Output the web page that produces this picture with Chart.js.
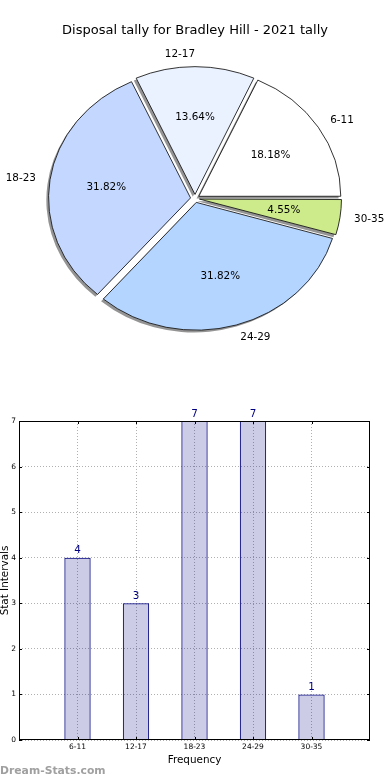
<!DOCTYPE html>
<html><head><meta charset="utf-8">
<script src="https://cdn.jsdelivr.net/npm/chart.js@4"></script>
<style>
html,body{margin:0;padding:0;background:#fff;width:390px;height:780px;overflow:hidden}
#pie{position:absolute;left:0;top:0}
#bar{position:absolute;left:0;top:390px}
</style>
</head><body>
<canvas id="pie" width="390" height="390"></canvas>
<canvas id="bar" width="390" height="390"></canvas>
<script>
const categories = ['6-11', '12-17', '18-23', '24-29', '30-35'];
const frequencies = [4, 3, 7, 7, 1];
const sliceColors = ['#ffffff', '#eaf1ff', '#c4d8ff', '#b4d5ff', '#cdeb8b'];
const yTicks = [0, 1, 2, 3, 4, 5, 6, 7];
const chartTitle = 'Disposal tally for Bradley Hill - 2021 tally';
const xTitle = 'Frequency';
const yTitle = 'Stat Intervals';
const watermark = 'Dream-Stats.com';

const FONT = "'DejaVu Sans', sans-serif";
const ELL = 0.9;
const total = frequencies.reduce((a, b) => a + b, 0);
// matplotlib draws counter-clockwise from east; Chart.js draws clockwise -> reverse
const order = categories.map((c, i) => i).reverse();

function arcGeom(arc) {
  const mid = (arc.startAngle + arc.endAngle) / 2;
  const off = (arc.options.offset || 0) / 4;
  return { mid, off, c: Math.cos(mid), s: Math.sin(mid) };
}

const pieShape = {
  id: 'pieShape',
  beforeDatasetsDraw(chart) {
    const meta = chart.getDatasetMeta(0);
    const a0 = meta.data[0];
    const cx = a0.x, cy = a0.y;
    const ctx = chart.ctx;
    // shadows (fill only), offset in screen space
    ctx.save();
    ctx.translate(-2.2, 2.2);
    ctx.translate(cx, cy); ctx.scale(1, ELL); ctx.translate(-cx, -cy);
    ctx.fillStyle = 'rgba(0,0,0,0.42)';
    meta.data.forEach(arc => {
      const g = arcGeom(arc);
      const ox = arc.x + g.off * g.c, oy = arc.y + g.off * g.s;
      ctx.beginPath();
      ctx.moveTo(ox, oy);
      ctx.arc(ox, oy, arc.outerRadius, arc.startAngle, arc.endAngle);
      ctx.closePath();
      ctx.fill();
    });
    ctx.restore();
    // cancel Chart.js radius growth for offset arcs
    meta.data.forEach(arc => {
      const g = arcGeom(arc);
      const circ = arc.endAngle - arc.startAngle;
      const fix = 1 - Math.sin(Math.min(Math.PI, circ));
      arc.$baseR = arc.outerRadius;
      arc.outerRadius = arc.$baseR - g.off * fix;
    });
    ctx.save();
    ctx.translate(cx, cy); ctx.scale(1, ELL); ctx.translate(-cx, -cy);
  },
  afterDatasetsDraw(chart) {
    const ctx = chart.ctx;
    ctx.restore();
    const meta = chart.getDatasetMeta(0);
    meta.data.forEach(arc => { if (arc.$baseR) arc.outerRadius = arc.$baseR; });
    const ds = chart.data.datasets[0];
    ctx.save();
    ctx.fillStyle = '#000';
    ctx.font = '10.4px ' + FONT;
    ctx.textBaseline = 'middle';
    meta.data.forEach((arc, i) => {
      const g = arcGeom(arc);
      const r = arc.outerRadius;
      const pt = k => [arc.x + (g.off + k * r) * g.c, arc.y + (g.off + k * r) * g.s * ELL];
      const [lx, ly] = pt(1.1);
      ctx.textAlign = g.c > 1e-9 ? 'left' : 'right';
      ctx.fillText(chart.data.labels[i], lx, ly);
      const [px, py] = pt(0.6);
      ctx.textAlign = 'center';
      ctx.fillText((ds.data[i] / total * 100).toFixed(2) + '%', px, py);
    });
    ctx.restore();
  }
};

new Chart(document.getElementById('pie'), {
  type: 'pie',
  data: {
    labels: order.map(i => categories[i]),
    datasets: [{
      data: order.map(i => frequencies[i]),
      backgroundColor: order.map(i => sliceColors[i]),
      borderColor: '#111',
      borderWidth: 0.9,
      offset: 18,
      radius: 142
    }]
  },
  options: {
    responsive: false, animation: false, events: [],
    rotation: 90, radius: 142,
    layout: { padding: { top: 0, bottom: 31.6, left: 0, right: 0 } },
    plugins: {
      legend: { display: false }, tooltip: { enabled: false },
      title: { display: true, text: chartTitle, color: '#000',
        font: { family: FONT, size: 13, weight: 'normal', lineHeight: 1.2 },
        padding: { top: 23, bottom: 0 } }
    }
  },
  plugins: [pieShape]
});

const barExtras = {
  id: 'barExtras',
  afterDraw(chart) {
    const ctx = chart.ctx;
    const a = chart.chartArea;
    const xs = chart.scales.x, ys = chart.scales.y;
    ctx.save();
    ctx.strokeStyle = '#000'; ctx.lineWidth = 1;
    ctx.strokeRect(Math.round(a.left) + 0.5, Math.round(a.top) + 0.5, Math.round(a.right - a.left) - 1, Math.round(a.bottom - a.top) - 1);
    ctx.beginPath();
    yTicks.forEach(v => {
      const y = Math.round(ys.getPixelForValue(v)) + 0.5;
      ctx.moveTo(a.left, y); ctx.lineTo(a.left + 3, y);
      ctx.moveTo(a.right, y); ctx.lineTo(a.right - 3, y);
    });
    categories.forEach((c, i) => {
      const x = Math.round(xs.getPixelForValue(i)) + 0.5;
      ctx.moveTo(x, a.bottom); ctx.lineTo(x, a.bottom - 3);
      ctx.moveTo(x, a.top); ctx.lineTo(x, a.top + 3);
    });
    ctx.stroke();
    // value labels
    const meta = chart.getDatasetMeta(0);
    ctx.fillStyle = '#000080';
    ctx.font = '10.4px ' + FONT;
    ctx.textAlign = 'center'; ctx.textBaseline = 'bottom';
    meta.data.forEach((bar, i) => {
      ctx.fillText(String(frequencies[i]), bar.x, bar.y - 2);
    });
    // axis titles
    ctx.fillStyle = '#000';
    ctx.textBaseline = 'middle';
    ctx.fillText(xTitle, (a.left + a.right) / 2, a.bottom + 20);
    ctx.save();
    ctx.translate(7.5, (a.top + a.bottom) / 2);
    ctx.rotate(-Math.PI / 2);
    ctx.textBaseline = 'alphabetic';
    ctx.fillText(yTitle, 0, 0);
    ctx.restore();
    // watermark
    ctx.fillStyle = '#a0a0a0';
    ctx.font = 'bold 10.8px ' + FONT;
    ctx.textAlign = 'left'; ctx.textBaseline = 'middle';
    ctx.fillText(watermark, 0, a.bottom + 31);
    ctx.restore();
  }
};

new Chart(document.getElementById('bar'), {
  type: 'bar',
  data: {
    datasets: [{
      data: frequencies.map((v, i) => ({ x: i, y: v })),
      backgroundColor: 'rgba(0,0,128,0.2)',
      borderColor: '#000080',
      borderWidth: 1,
      barPercentage: 0.45,
      categoryPercentage: 1
    }]
  },
  options: {
    responsive: false, animation: false, events: [],
    layout: { padding: { left: 0, right: 20, top: 31, bottom: 0 } },
    scales: {
      x: {
        type: 'linear', min: -1, max: 5, offset: false,
        afterBuildTicks: s => { s.ticks = categories.map((c, i) => ({ value: i })); },
        afterFit: s => { s.height = 40; },
        ticks: { callback: v => categories[v] ?? '', color: '#000', font: { family: FONT, size: 7.5 }, padding: 3, maxRotation: 0, autoSkip: false },
        grid: { color: '#b0b0b0', lineWidth: 1, drawTicks: false, offset: false },
        border: { display: false, dash: [1, 2] }
      },
      y: {
        min: 0, max: 7,
        afterBuildTicks: s => { s.ticks = yTicks.map(v => ({ value: v })); },
        afterFit: s => { s.width = 19; },
        ticks: { color: '#000', font: { family: FONT, size: 7.5 }, padding: 3 },
        grid: { color: '#b0b0b0', lineWidth: 1, drawTicks: false },
        border: { display: false, dash: [1, 2] }
      }
    },
    plugins: { legend: { display: false }, tooltip: { enabled: false } }
  },
  plugins: [barExtras]
});
</script>
</body></html>
